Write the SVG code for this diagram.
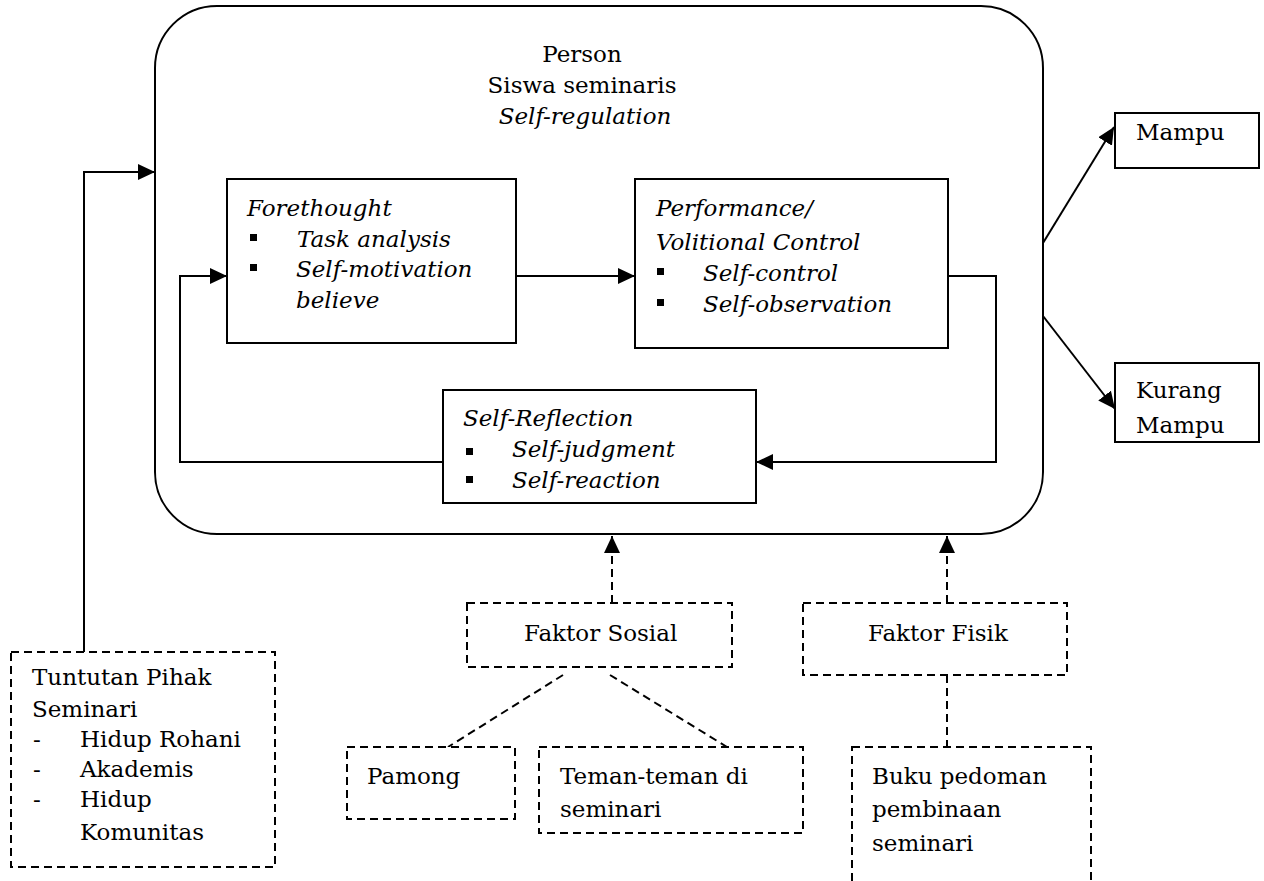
<svg xmlns="http://www.w3.org/2000/svg" width="1264" height="881" viewBox="0 0 1264 881">
<style>
text{font-family:'DejaVu Serif','Liberation Serif',serif;font-size:23px;fill:#000}
.i{font-style:italic}
.box{fill:#fff;stroke:#000;stroke-width:2}
.dbox{fill:#fff;stroke:#000;stroke-width:2;stroke-dasharray:8 5}
.ln{fill:none;stroke:#000;stroke-width:2}
.dl{fill:none;stroke:#000;stroke-width:2;stroke-dasharray:8 5}
.b{fill:#000}
</style>
<defs>
<marker id="ah" markerUnits="userSpaceOnUse" markerWidth="18" markerHeight="16" refX="17" refY="8" orient="auto">
<path d="M0 0 L17 8 L0 16 Z" fill="#000"/>
</marker>
</defs>
<rect width="1264" height="881" fill="#fff"/>
<g id="person">
<rect class="box" x="155" y="6" width="888" height="528" rx="62" ry="62"/>
<text x="582" y="62" text-anchor="middle">Person</text>
<text x="582" y="93" text-anchor="middle">Siswa seminaris</text>
<text class="i" x="585" y="124" text-anchor="middle">Self-regulation</text>
</g>
<g id="connectors">
<path class="ln" d="M84 652 V172 H155" marker-end="url(#ah)"/>
<path class="ln" d="M516 276 H635" marker-end="url(#ah)"/>
<path class="ln" d="M948 276 H996 V462 H756" marker-end="url(#ah)"/>
<path class="ln" d="M443 462 H180 V276 H227" marker-end="url(#ah)"/>
<path class="ln" d="M1043 243 L1114 127" marker-end="url(#ah)"/>
<path class="ln" d="M1043 316 L1115 409" marker-end="url(#ah)"/>
<path class="dl" d="M612 603 V536" marker-end="url(#ah)"/>
<path class="dl" d="M947 603 V536" marker-end="url(#ah)"/>
<path class="dl" d="M563 675 L448 747"/>
<path class="dl" d="M610 675 L727 747"/>
<path class="dl" d="M947 675 V747"/>
</g>
<g id="forethought">
<rect class="box" x="227" y="179" width="289" height="164"/>
<text class="i" x="247" y="216">Forethought</text>
<rect class="b" x="250" y="234" width="7" height="7"/>
<text class="i" x="297" y="247">Task analysis</text>
<rect class="b" x="250" y="264" width="7" height="7"/>
<text class="i" x="296" y="277">Self-motivation</text>
<text class="i" x="296" y="308">believe</text>
</g>
<g id="performance">
<rect class="box" x="635" y="179" width="313" height="169"/>
<text class="i" x="656" y="216">Performance/</text>
<text class="i" x="656" y="250">Volitional Control</text>
<rect class="b" x="657" y="268" width="7" height="7"/>
<text class="i" x="703" y="281">Self-control</text>
<rect class="b" x="657" y="299" width="7" height="7"/>
<text class="i" x="703" y="312">Self-observation</text>
</g>
<g id="selfreflection">
<rect class="box" x="443" y="390" width="313" height="113"/>
<text class="i" x="463" y="426">Self-Reflection</text>
<rect class="b" x="466" y="448" width="7" height="7"/>
<text class="i" x="512" y="457">Self-judgment</text>
<rect class="b" x="466" y="476" width="7" height="7"/>
<text class="i" x="512" y="488">Self-reaction</text>
</g>
<g id="mampu">
<rect class="box" x="1115" y="113" width="144" height="55"/>
<text x="1136" y="140">Mampu</text>
</g>
<g id="kurangmampu">
<rect class="box" x="1115" y="363" width="144" height="79"/>
<text x="1136" y="398">Kurang</text>
<text x="1136" y="433">Mampu</text>
</g>
<g id="tuntutan">
<rect class="dbox" x="11" y="652" width="264" height="215"/>
<text x="32" y="685">Tuntutan Pihak</text>
<text x="32" y="717">Seminari</text>
<text x="33" y="747">-</text>
<text x="80" y="747">Hidup Rohani</text>
<text x="33" y="777">-</text>
<text x="80" y="777">Akademis</text>
<text x="33" y="807">-</text>
<text x="80" y="807">Hidup</text>
<text x="80" y="840">Komunitas</text>
</g>
<g id="faktorsosial">
<rect class="dbox" x="467" y="603" width="265" height="64"/>
<text x="524" y="641">Faktor Sosial</text>
</g>
<g id="faktorfisik">
<rect class="dbox" x="803" y="603" width="264" height="72"/>
<text x="868" y="641">Faktor Fisik</text>
</g>
<g id="pamong">
<rect class="dbox" x="347" y="747" width="168" height="72"/>
<text x="367" y="784">Pamong</text>
</g>
<g id="teman">
<rect class="dbox" x="539" y="747" width="264" height="86"/>
<text x="560" y="784">Teman-teman di</text>
<text x="560" y="817">seminari</text>
</g>
<g id="buku">
<rect class="dbox" x="852" y="747" width="239" height="140"/>
<text x="872" y="784">Buku pedoman</text>
<text x="872" y="817">pembinaan</text>
<text x="872" y="851">seminari</text>
</g>
</svg>
